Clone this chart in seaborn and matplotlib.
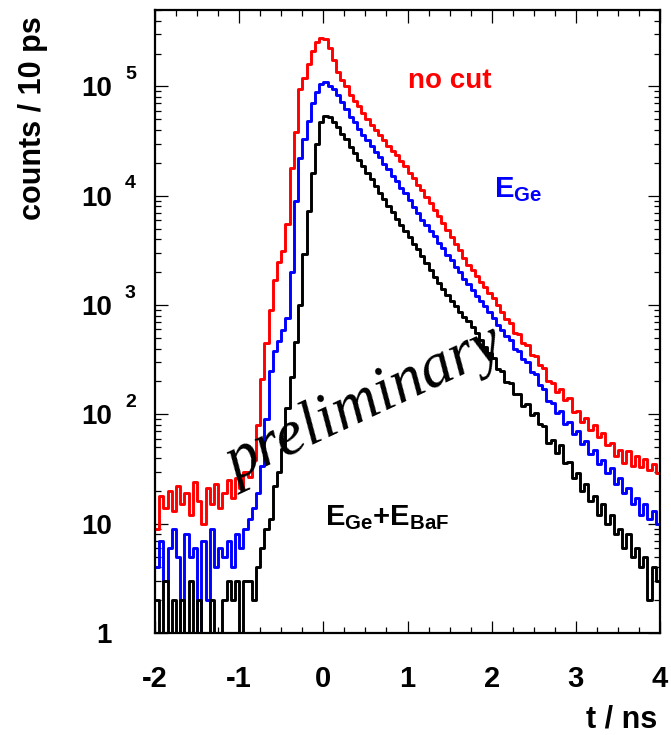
import numpy as np
import pandas as pd
import matplotlib
matplotlib.use("Agg")
import matplotlib.pyplot as plt
import seaborn as sns
from matplotlib.ticker import LogLocator, MultipleLocator, NullFormatter, FixedLocator, FixedFormatter

t_start, t_stop, bin_width = -2.0, 4.0, 0.05

red_counts = [
    9, 18, 14, 20, 13, 22, 15, 19, 12, 24, 16, 10, 21, 15, 23, 14, 19, 25, 17, 26,
    21, 30, 27, 38, 80, 210, 450, 900, 1700, 2500, 3100, 5500, 18000, 38000, 95000, 120000, 160000, 210000, 255000, 280000,
    272000, 225000, 175000, 135000, 115000, 100000, 83000, 74000, 66000, 57500, 50000, 44700, 39800, 36300, 32400, 28800, 25700, 23400, 20900, 18600,
    16200, 14500, 12600, 11200, 9770, 8510, 7410, 6460, 5620, 4900, 4170, 3630, 3160, 2690, 2340, 2090, 1860, 1620, 1450, 1290,
    1150, 1000, 870, 740, 680, 560, 540, 450, 430, 350, 345, 280, 265, 200, 195, 160, 170, 135, 140, 105,
    108, 85, 92, 72, 80, 62, 68, 52, 55, 42, 47, 36, 46, 34, 42, 33, 39, 31, 35, 29,
]

blue_counts = [
    4, 7, 3, 6, 9, 5, 1, 8, 5, 6, 1, 7, 2, 9, 4, 6, 5, 7, 4, 8,
    6, 9, 11, 14, 19, 34, 90, 250, 380, 470, 590, 760, 2000, 9000, 22000, 33000, 48000, 70000, 88000, 105000,
    110000, 100000, 95000, 83000, 72000, 62000, 52000, 46800, 40700, 36300, 32400, 28800, 25100, 22400, 19500, 17400, 15100, 13500, 11700, 10500,
    9120, 7940, 6920, 6030, 5370, 4790, 4270, 3720, 3310, 2880, 2570, 2240, 2000, 1740, 1550, 1370, 1220, 1090, 970, 865,
    760, 660, 590, 525, 480, 400, 380, 320, 300, 245, 232, 185, 172, 132, 126, 104, 108, 82, 85, 66,
    70, 54, 57, 43, 47, 35, 38, 29, 32, 23, 26, 19, 21, 15, 17, 12, 15, 11, 13, 10,
]

black_counts = [
    2, 1, 3, 0, 2, 1, 2, 0, 3, 1, 2, 0, 1, 2, 1, 0, 2, 3, 2, 3,
    1, 3, 3, 2, 4, 6, 9, 11, 22, 30, 48, 115, 220, 460, 1000, 2900, 7200, 16000, 30000, 47000,
    54000, 53000, 47000, 42500, 37000, 33000, 28000, 24500, 21400, 18600, 16200, 14100, 12300, 10700, 9330, 8130, 7080, 6170, 5370, 4790,
    4170, 3630, 3240, 2820, 2450, 2090, 1820, 1580, 1410, 1230, 1100, 977, 871, 776, 708, 631, 550, 479, 417, 363,
    325, 262, 248, 198, 192, 155, 152, 120, 125, 98, 102, 82, 78, 55, 58, 44, 52, 36, 37, 26,
    29, 20, 23, 16, 18, 12, 15, 10, 12, 8, 9, 6, 8, 5, 6, 4, 5, 2, 4, 3,
]

series_names = ["no cut", "E_Ge", "E_Ge+E_BaF"]
series_colors = ["#ff0000", "#0000ff", "#000000"]
x_ticks = [-2, -1, 0, 1, 2, 3, 4]
y_decades = [0, 1, 2, 3, 4, 5]
y_tick_labels = ["1", "10", "10", "10", "10", "10"]

# ---------------- style ----------------
sns.set_theme(style="white")
plt.rcParams["font.family"] = ["Liberation Sans", "DejaVu Sans"]
plt.rcParams["font.weight"] = "bold"
plt.rcParams["text.color"] = "black"
plt.rcParams["axes.labelcolor"] = "black"
plt.rcParams["xtick.color"] = "black"
plt.rcParams["ytick.color"] = "black"
plt.rcParams["mathtext.fontset"] = "custom"
plt.rcParams["mathtext.rm"] = "Liberation Sans:bold"
plt.rcParams["mathtext.bf"] = "Liberation Sans:bold"
plt.rcParams["mathtext.it"] = "Liberation Sans:bold"
plt.rcParams["mathtext.sf"] = "Liberation Sans:bold"

W, H = 671, 735
fig = plt.figure(figsize=(W / 100, H / 100), dpi=100)
ax_l, ax_r, ax_t, ax_b = 155, 660, 10, 633
ax = fig.add_axes([ax_l / W, 1 - ax_b / H, (ax_r - ax_l) / W, (ax_b - ax_t) / H])

edges = t_start + bin_width * np.arange(len(red_counts) + 1)
centers = edges[:-1] + bin_width / 2

df = pd.DataFrame({
    "t": np.concatenate([centers] * 3),
    "counts": np.concatenate([red_counts, blue_counts, black_counts]).astype(float),
    "cut": np.repeat(series_names, len(centers)),
})

for name, col in zip(series_names, series_colors):
    sns.histplot(data=df[df["cut"] == name], x="t", weights="counts", bins=edges.tolist(),
                 element="step", fill=False, color=col, linewidth=2.1, ax=ax)

ax.set_yscale("log")
ax.set_xlim(t_start, t_stop)
ax.set_ylim(1, 5e5)
ax.set_xlabel("")
ax.set_ylabel("")

for s in ax.spines.values():
    s.set_linewidth(1.6)
    s.set_color("black")
    s.set_visible(True)

ax.xaxis.set_major_locator(FixedLocator(x_ticks))
ax.xaxis.set_minor_locator(MultipleLocator(0.25))
ax.yaxis.set_major_locator(FixedLocator([10.0 ** k for k in y_decades]))
ax.yaxis.set_major_formatter(FixedFormatter(y_tick_labels))
ax.yaxis.set_minor_locator(LogLocator(base=10, subs=np.arange(2, 10)))
ax.yaxis.set_minor_formatter(NullFormatter())
ax.set_xticklabels([str(v) for v in x_ticks])

ax.tick_params(which="both", direction="in", top=True, right=True, bottom=True, left=True,
               color="black", labelcolor="black", width=0.9)
ax.tick_params(which="major", length=9)
ax.tick_params(which="minor", length=4.5)
ax.tick_params(axis="x", which="major", pad=23, labelsize=21)
ax.tick_params(axis="y", which="major", pad=31, labelsize=20)

# exponents of the y tick labels (ROOT style "10 ^k")
for k in y_decades:
    if k >= 2:
        ax.annotate(str(k), xy=(0, 10.0 ** k), xycoords=ax.get_yaxis_transform(),
                    xytext=(-30, 12), textcoords="offset pixels",
                    ha="left", va="center", fontsize=14, fontweight="bold", color="black")

# axis titles
fig.text(33 / W, 1 - 16 / H, "counts / 10 ps", rotation=90, ha="center", va="top",
         fontsize=22, fontweight="bold", color="black")
fig.text(657 / W, 1 - 728 / H, "t / ns", ha="right", va="baseline",
         fontsize=22, fontweight="bold", color="black")

# curve labels
ax.text((408 - ax_l) / (ax_r - ax_l), (ax_b - 88) / (ax_b - ax_t), "no cut",
        transform=ax.transAxes, color="#ff0000", fontsize=20, fontweight="bold",
        ha="left", va="baseline")
ax.text((494 - ax_l) / (ax_r - ax_l), (ax_b - 197) / (ax_b - ax_t), r"$\mathrm{E_{Ge}}$",
        transform=ax.transAxes, color="#0000ff", fontsize=21,
        ha="left", va="baseline")
ax.text((325 - ax_l) / (ax_r - ax_l), (ax_b - 525) / (ax_b - ax_t), r"$\mathrm{E_{Ge}{+}E_{BaF}}$",
        transform=ax.transAxes, color="#000000", fontsize=21,
        ha="left", va="baseline")

# watermark
ax.text((365 - ax_l) / (ax_r - ax_l), (ax_b - 405) / (ax_b - ax_t), "preliminary",
        transform=ax.transAxes, family=["Liberation Serif", "DejaVu Serif"], style="italic",
        fontweight="normal", fontsize=46, rotation=25, rotation_mode="anchor",
        ha="center", va="center", color="black")

fig.savefig("out.png", dpi=100, facecolor="white")
